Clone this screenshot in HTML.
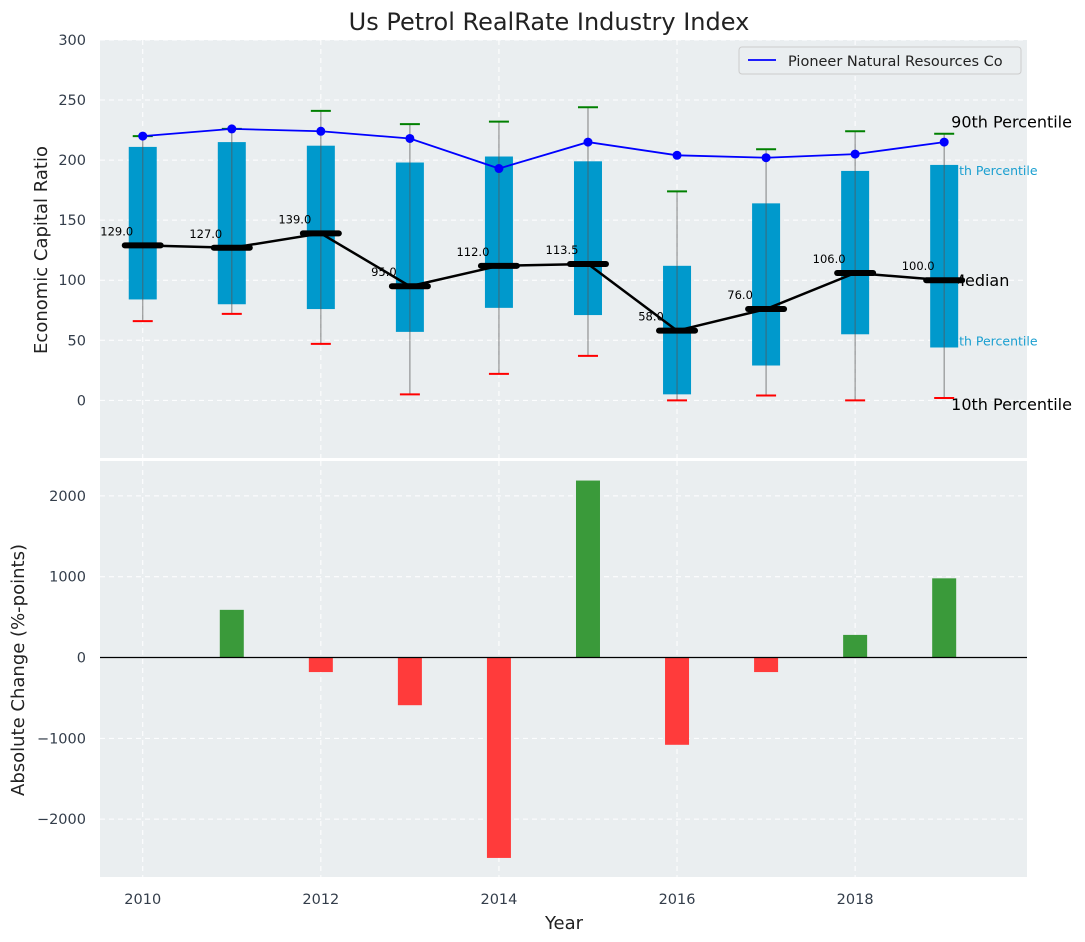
<!DOCTYPE html>
<html><head><meta charset="utf-8"><style>
body{margin:0;background:#fff;font-family:"DejaVu Sans","Liberation Sans",sans-serif}
svg{display:block}
</style></head><body>
<svg id="c" width="1085" height="942" xmlns="http://www.w3.org/2000/svg"></svg>
<script>
const years=[2010,2011,2012,2013,2014,2015,2016,2017,2018,2019];
const q1=[84,80,76,57,77,71,5,29,55,44];
const q3=[211,215,212,198,203,199,112,164,191,196];
const medians=[129,127,139,95,112,113.5,58,76,106,100];
const lows=[66,72,47,5,22,37,0,4,0,2];
const highs=[220,226,241,230,232,244,174,209,224,222];
const pioneer=[220,226,224,218,193,215,204,202,205,215];
const changes=[0,590,-180,-590,-2480,2190,-1080,-180,280,980];
const xTicks=[2010,2012,2014,2016,2018];
const yTicksTop=[0,50,100,150,200,250,300];
const yTicksBot=[-2000,-1000,0,1000,2000];

const NS="http://www.w3.org/2000/svg";
const svg=document.getElementById('c');
function el(tag,attrs,parent,text){const e=document.createElementNS(NS,tag);for(const k in attrs)e.setAttribute(k,attrs[k]);if(text!==undefined)e.textContent=text;(parent||svg).appendChild(e);return e;}
const L=100,R=1027;
const x=v=>L+(v-2009.52)/(2019.93-2009.52)*(R-L);
const T1=40,B1=458,yT=v=>T1+(300-v)/(300+48)*(B1-T1);
const T2=461,B2=877,yB=v=>T2+(2432-v)/(2432+2716)*(B2-T2);

let g=el('rect',{x:L,y:T1,width:R-L,height:B1-T1,fill:'#eaeef0'});

g=el('rect',{x:L,y:T2,width:R-L,height:B2-T2,fill:'#eaeef0'});

xTicks.forEach(t=>{el('line',{x1:x(t),x2:x(t),y1:T1,y2:B1,stroke:'#fff','stroke-dasharray':'5,4','stroke-width':1});el('line',{x1:x(t),x2:x(t),y1:T2,y2:B2,stroke:'#fff','stroke-dasharray':'5,4','stroke-width':1});
 const tl=el('text',{x:x(t),y:904,'text-anchor':'middle','font-size':14.5,fill:'#333d4a'},null,t);
 });
yTicksTop.forEach(t=>{el('line',{x1:L,x2:R,y1:yT(t),y2:yT(t),stroke:'#fff','stroke-dasharray':'5,4'});
 const tl=el('text',{x:86,y:yT(t)+5,'text-anchor':'end','font-size':14.5,fill:'#333d4a'},null,t);
 });
yTicksBot.forEach(t=>{el('line',{x1:L,x2:R,y1:yB(t),y2:yB(t),stroke:'#fff','stroke-dasharray':'5,4'});
 const tl=el('text',{x:86,y:yB(t)+5,'text-anchor':'end','font-size':14.5,fill:'#333d4a'},null,t<0?'−'+(-t):t);
 });

const last=years.length-1;
[['90th Percentile',highs[last],'#000',16,'label-90th',7,-6],['75th Percentile',q3[last],'#1a9fd0',12.5,'label-75th',-1,10],['Median',medians[last],'#000',16,'label-median',7,6],['25th Percentile',q1[last],'#1a9fd0',12.5,'label-25th',-1,-2],['10th Percentile',lows[last],'#000',16,'label-10th',7,12]].forEach(a=>{
 const t=el('text',{x:x(2019)+a[5],y:yT(a[1])+a[6],'font-size':a[3],fill:a[2]},null,a[0]);
 });

years.forEach((yr,i)=>{
 const b=el('rect',{x:x(yr)-14,y:yT(q3[i]),width:28,height:yT(q1[i])-yT(q3[i]),fill:'#0099cc'});
 
 const w=el('line',{x1:x(yr),x2:x(yr),y1:yT(lows[i]),y2:yT(highs[i]),stroke:'#555','stroke-opacity':0.6,'stroke-width':1.2});
 
 const lc=el('line',{x1:x(yr)-10,x2:x(yr)+10,y1:yT(lows[i]),y2:yT(lows[i]),stroke:'#ff0000','stroke-width':2});
 
 const hc=el('line',{x1:x(yr)-10,x2:x(yr)+10,y1:yT(highs[i]),y2:yT(highs[i]),stroke:'#008000','stroke-width':2});
 
});
let mp=years.map((yr,i)=>x(yr)+','+yT(medians[i])).join(' ');
g=el('polyline',{points:mp,fill:'none',stroke:'#000','stroke-width':2.5});

years.forEach((yr,i)=>{
 const m=el('line',{x1:x(yr)-18,x2:x(yr)+18,y1:yT(medians[i]),y2:yT(medians[i]),stroke:'#000','stroke-width':6,'stroke-linecap':'round'});
 
 const t=el('text',{x:x(yr)-26,y:yT(medians[i])-10,'text-anchor':'middle','font-size':11.5,fill:'#000'},null,medians[i].toFixed(1));
 
});
g=el('polyline',{points:years.map((yr,i)=>x(yr)+','+yT(pioneer[i])).join(' '),fill:'none',stroke:'#0000ff','stroke-width':1.8});

years.forEach((yr,i)=>{const c=el('circle',{cx:x(yr),cy:yT(pioneer[i]),r:4.5,fill:'#0000ff'});
 });

g=el('rect',{x:739,y:47,width:282,height:27,rx:3,fill:'#eaeef0',stroke:'#ccc'});

el('line',{x1:748,x2:776,y1:60,y2:60,stroke:'#0000ff','stroke-width':1.8});
g=el('text',{x:788,y:66,'font-size':14.5,fill:'#222'},null,'Pioneer Natural Resources Co');


years.forEach((yr,i)=>{const v=changes[i];const y0=yB(0),y1=yB(v);
 const r=el('rect',{x:x(yr)-12,y:Math.min(y0,y1),width:24,height:Math.abs(y1-y0),fill:v>=0?'#3a9a3a':'#ff3b3b'});
 });
el('line',{x1:L,x2:R,y1:yB(0),y2:yB(0),stroke:'#000','stroke-width':1.2});

g=el('text',{x:549,y:30,'text-anchor':'middle','font-size':24,fill:'#222'},null,'Us Petrol RealRate Industry Index');

g=el('text',{x:564,y:929,'text-anchor':'middle','font-size':18,fill:'#222'},null,'Year');

g=el('text',{x:47,y:250,'text-anchor':'middle','font-size':18,fill:'#222',transform:'rotate(-90 47 250)'},null,'Economic Capital Ratio');

g=el('text',{x:24,y:670,'text-anchor':'middle','font-size':18,fill:'#222',transform:'rotate(-90 24 670)'},null,'Absolute Change (%-points)');

</script>
</body></html>
